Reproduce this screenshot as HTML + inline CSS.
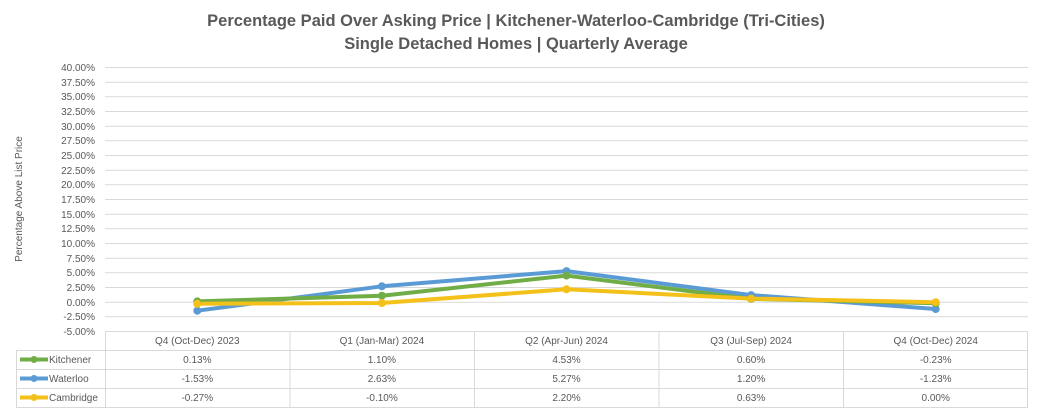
<!DOCTYPE html>
<html><head><meta charset="utf-8"><style>
body{margin:0;background:#fff;}
svg{display:block;font-family:"Liberation Sans",sans-serif;}
</style></head><body>
<svg width="1039" height="411" viewBox="0 0 1039 411" xmlns="http://www.w3.org/2000/svg">
<rect width="1039" height="411" fill="#fff"/>
<text x="516" y="26" text-anchor="middle" font-size="16.5" font-weight="bold" fill="#595959">Percentage Paid Over Asking Price | Kitchener-Waterloo-Cambridge (Tri-Cities)</text>
<text x="516" y="49" text-anchor="middle" font-size="16.5" font-weight="bold" fill="#595959">Single Detached Homes | Quarterly Average</text>
<text transform="translate(22,199) rotate(-90)" text-anchor="middle" font-size="10" fill="#595959">Percentage Above List Price</text>
<g stroke="#d9d9d9" stroke-width="1">
<line x1="105" x2="1028" y1="67.5" y2="67.5"/><line x1="105" x2="1028" y1="82.2" y2="82.2"/><line x1="105" x2="1028" y1="96.8" y2="96.8"/><line x1="105" x2="1028" y1="111.5" y2="111.5"/><line x1="105" x2="1028" y1="126.2" y2="126.2"/><line x1="105" x2="1028" y1="140.8" y2="140.8"/><line x1="105" x2="1028" y1="155.5" y2="155.5"/><line x1="105" x2="1028" y1="170.2" y2="170.2"/><line x1="105" x2="1028" y1="184.8" y2="184.8"/><line x1="105" x2="1028" y1="199.5" y2="199.5"/><line x1="105" x2="1028" y1="214.2" y2="214.2"/><line x1="105" x2="1028" y1="228.8" y2="228.8"/><line x1="105" x2="1028" y1="243.5" y2="243.5"/><line x1="105" x2="1028" y1="258.2" y2="258.2"/><line x1="105" x2="1028" y1="272.8" y2="272.8"/><line x1="105" x2="1028" y1="287.5" y2="287.5"/><line x1="105" x2="1028" y1="302.2" y2="302.2"/><line x1="105" x2="1028" y1="316.8" y2="316.8"/>
</g>
<g font-size="10" fill="#595959" text-anchor="end">
<text x="95" y="71">40.00%</text><text x="95" y="86">37.50%</text><text x="95" y="100">35.00%</text><text x="95" y="115">32.50%</text><text x="95" y="130">30.00%</text><text x="95" y="144">27.50%</text><text x="95" y="159">25.00%</text><text x="95" y="174">22.50%</text><text x="95" y="188">20.00%</text><text x="95" y="203">17.50%</text><text x="95" y="218">15.00%</text><text x="95" y="232">12.50%</text><text x="95" y="247">10.00%</text><text x="95" y="262">7.50%</text><text x="95" y="276">5.00%</text><text x="95" y="291">2.50%</text><text x="95" y="306">0.00%</text><text x="95" y="320">-2.50%</text><text x="95" y="335">-5.00%</text>
</g>
<g fill="none" stroke-width="4" stroke-linejoin="round">
<polyline stroke="#5b9bd5" points="197.3,310.7 381.9,286.3 566.5,271.1 751.1,295.1 935.7,309.0"/>
<polyline stroke="#70ad47" points="197.3,301.4 381.9,295.7 566.5,275.6 751.1,298.9 935.7,303.2"/>
<polyline stroke="#f4c01a" points="197.3,303.8 381.9,303.0 566.5,289.3 751.1,298.6 935.7,302.2"/>
</g>
<g stroke="none">
<circle cx="197.3" cy="310.7" r="4" fill="#5b9bd5"/><circle cx="381.9" cy="286.3" r="4" fill="#5b9bd5"/><circle cx="566.5" cy="271.1" r="4" fill="#5b9bd5"/><circle cx="751.1" cy="295.1" r="4" fill="#5b9bd5"/><circle cx="935.7" cy="309.0" r="4" fill="#5b9bd5"/>
<circle cx="197.3" cy="301.4" r="4" fill="#70ad47"/><circle cx="381.9" cy="295.7" r="4" fill="#70ad47"/><circle cx="566.5" cy="275.6" r="4" fill="#70ad47"/><circle cx="751.1" cy="298.9" r="4" fill="#70ad47"/><circle cx="935.7" cy="303.2" r="4" fill="#70ad47"/>
<circle cx="197.3" cy="303.8" r="4" fill="#f4c01a"/><circle cx="381.9" cy="303.0" r="4" fill="#f4c01a"/><circle cx="566.5" cy="289.3" r="4" fill="#f4c01a"/><circle cx="751.1" cy="298.6" r="4" fill="#f4c01a"/><circle cx="935.7" cy="302.2" r="4" fill="#f4c01a"/>
</g>
<g stroke="#d9d9d9" stroke-width="1" fill="none">
<line x1="105" x2="1028" y1="331.5" y2="331.5"/>
<line x1="16" x2="1028" y1="350.5" y2="350.5"/>
<line x1="16" x2="1028" y1="369.5" y2="369.5"/>
<line x1="16" x2="1028" y1="388.5" y2="388.5"/>
<line x1="16" x2="1028" y1="407.5" y2="407.5"/>
<line x1="16.5" x2="16.5" y1="350" y2="407"/>
<line x1="105.5" x2="105.5" y1="331" y2="407"/>
<line x1="290" x2="290" y1="331" y2="407"/>
<line x1="474.5" x2="474.5" y1="331" y2="407"/>
<line x1="659" x2="659" y1="331" y2="407"/>
<line x1="843.5" x2="843.5" y1="331" y2="407"/>
<line x1="1027.5" x2="1027.5" y1="331" y2="407"/>
</g>
<g font-size="10" fill="#595959" text-anchor="middle">
<text x="197.3" y="344">Q4 (Oct-Dec) 2023</text><text x="381.9" y="344">Q1 (Jan-Mar) 2024</text><text x="566.5" y="344">Q2 (Apr-Jun) 2024</text><text x="751.1" y="344">Q3 (Jul-Sep) 2024</text><text x="935.7" y="344">Q4 (Oct-Dec) 2024</text>
<text x="197.3" y="363">0.13%</text><text x="381.9" y="363">1.10%</text><text x="566.5" y="363">4.53%</text><text x="751.1" y="363">0.60%</text><text x="935.7" y="363">-0.23%</text>
<text x="197.3" y="382">-1.53%</text><text x="381.9" y="382">2.63%</text><text x="566.5" y="382">5.27%</text><text x="751.1" y="382">1.20%</text><text x="935.7" y="382">-1.23%</text>
<text x="197.3" y="401">-0.27%</text><text x="381.9" y="401">-0.10%</text><text x="566.5" y="401">2.20%</text><text x="751.1" y="401">0.63%</text><text x="935.7" y="401">0.00%</text>
</g>
<g stroke-width="4">
<line x1="20" x2="48" y1="359.5" y2="359.5" stroke="#70ad47"/><circle cx="34" cy="359.5" r="3.5" fill="#70ad47"/>
<line x1="20" x2="48" y1="378.5" y2="378.5" stroke="#5b9bd5"/><circle cx="34" cy="378.5" r="3.5" fill="#5b9bd5"/>
<line x1="20" x2="48" y1="397.5" y2="397.5" stroke="#f4c01a"/><circle cx="34" cy="397.5" r="3.5" fill="#f4c01a"/>
</g>
<g font-size="10" fill="#595959">
<text x="49" y="363">Kitchener</text><text x="49" y="382">Waterloo</text><text x="49" y="401">Cambridge</text>
</g>
</svg>
</body></html>
